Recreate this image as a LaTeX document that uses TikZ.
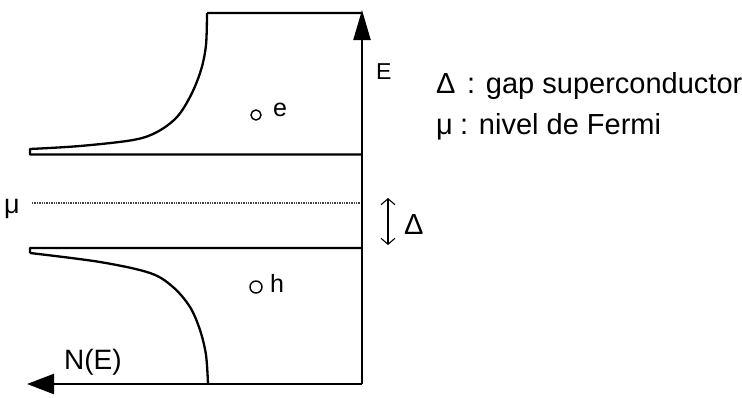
\documentclass[tikz,border=0pt]{standalone}
\usepackage{fontspec}
\setmainfont{Liberation Sans}
\usetikzlibrary{arrows.meta}
\begin{document}
\begin{tikzpicture}[x=1pt,y=-1pt,
  ax/.style={line width=2.3pt},
  crv/.style={line width=2.3pt, line join=round},
  lbl/.style={anchor=base west, inner sep=0pt},
  dot/.style={circle, draw, line width=1.4pt, inner sep=0pt, minimum size=10pt}]
\useasboundingbox (0,0) rectangle (742,397);
% axes
\coordinate (O) at (362,384);
\coordinate (Etop) at (362,10);
\coordinate (Nend) at (27,384);
\draw[ax,-{Triangle[length=30pt,width=17pt]}] (O) -- (Etop);
\draw[ax,-{Triangle[length=27pt,width=20pt]}] (O) -- (Nend);
% upper band edge
\coordinate (ut) at (207,13);
\coordinate (ul) at (30,149);
\coordinate (ulb) at (30,154.5);
\coordinate (ur) at (362,154.5);
\draw[crv] (362,13) -- (ut)
  plot[smooth, tension=0.55] coordinates {(207,13) (206,45) (201,70) (191,95) (177,117) (157,132) (133,140) (80,146) (30,149)}
  -- (ulb) -- (ur);
% lower band edge
\coordinate (lr) at (362,248);
\coordinate (lt) at (30,248);
\coordinate (lb) at (30,253);
\coordinate (lbot) at (208,384);
\draw[crv] (lr) -- (lt) -- (lb)
  plot[smooth, tension=0.55] coordinates {(30,253) (100,262) (150,273) (173,287) (190,307) (200,330) (206,355) (208,384)};
% Fermi level
\node[lbl, font=\fontsize{27}{27}\selectfont] (mu) at (4,213) {μ};
\coordinate (mul) at (32,203);
\coordinate (mur) at (360,203);
\draw[line width=1.4pt, densely dotted, black!75] (mul) -- (mur);
% gap arrow
\coordinate (ga) at (388,198);
\coordinate (gb) at (388,245);
\draw[line width=1.1pt, {Straight Barb[length=6pt,width=14pt]}-{Straight Barb[length=6pt,width=14pt]}] (ga) -- (gb);
\node[lbl, font=\fontsize{29}{29}\selectfont] (gapD) at (404,234) {Δ};
% labels
\node[lbl, font=\fontsize{23}{23}\selectfont] (E) at (376,79) {E};
\node[lbl, font=\fontsize{28}{28}\selectfont] (NE) at (64,369) {N(E)};
\node[dot] (ce) at (256,115) {};
\node[lbl, font=\fontsize{25}{25}\selectfont] (e) at (273,116) {e};
\node[dot, minimum size=12pt] (ch) at (256,287) {};
\node[lbl, font=\fontsize{25}{25}\selectfont] (h) at (270,292) {h};
% legend
\node[lbl, font=\fontsize{29}{29}\selectfont] (l1a) at (436,93) {Δ};
\node[lbl, font=\fontsize{29}{29}\selectfont] (l1b) at (467,93) {: gap superconductor};
\node[lbl, font=\fontsize{29}{29}\selectfont] (l2a) at (436,134) {μ};
\node[lbl, font=\fontsize{29}{29}\selectfont] (l2b) at (460,134) {: nivel de Fermi};
\end{tikzpicture}
\end{document}
